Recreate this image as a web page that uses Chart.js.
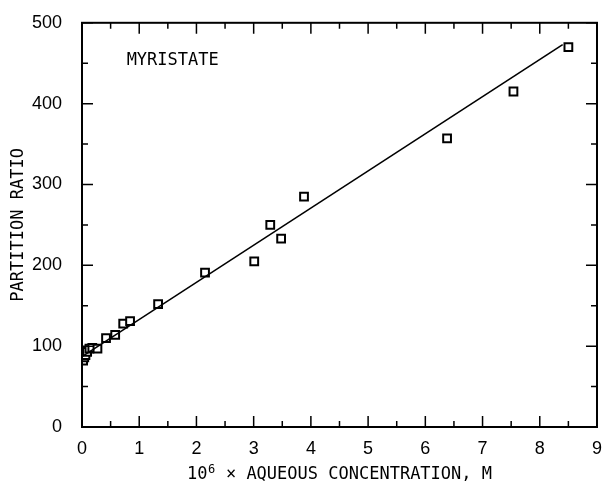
<!DOCTYPE html>
<html>
<head>
<meta charset="utf-8">
<script src="https://cdn.jsdelivr.net/npm/chart.js@4/dist/chart.umd.min.js"></script>
<style>
  html, body { margin: 0; padding: 0; background: #fff; }
  #c { display: block; }
</style>
</head>
<body>
<canvas id="c" width="605" height="485"></canvas>
<script>
// ---- data ----
const concX = [0.02, 0.04, 0.06, 0.09, 0.13, 0.18, 0.27, 0.42, 0.58, 0.72, 0.84, 1.33, 2.15, 3.01, 3.29, 3.48, 3.88, 6.38, 7.54, 8.50];
const ratioY = [82, 86, 89, 93, 97, 98, 97, 110, 114, 128, 131, 152, 191, 205, 250, 233, 285, 357, 415, 470];
const fitX = [0, 8.4];
const fitY = [87, 473];
const xTicks = [0, 1, 2, 3, 4, 5, 6, 7, 8, 9];
const yTicks = [0, 100, 200, 300, 400, 500];
const labelText = 'MYRISTATE';
const labelAt = [0.78, 453];
const xTitleParts = ['10', '6', ' \u00d7 AQUEOUS CONCENTRATION, M'];
const yTitle = 'PARTITION RATIO';

const pts = concX.map((x, i) => ({ x, y: ratioY[i] }));
const fit = fitX.map((x, i) => ({ x, y: fitY[i] }));

const frameTicks = {
  id: 'frameTicks',
  afterDraw(chart) {
    const { ctx, chartArea: a, scales: { x, y } } = chart;
    ctx.save();
    ctx.strokeStyle = '#000';
    ctx.lineWidth = 2;
    ctx.strokeRect(a.left, a.top, a.right - a.left, a.bottom - a.top);
    ctx.lineWidth = 1.5;
    ctx.beginPath();
    for (let v = x.min; v <= x.max + 1e-9; v += 0.5) {
      const px = x.getPixelForValue(v);
      const major = Math.abs(v - Math.round(v)) < 1e-6;
      const len = major ? 11 : 6;
      ctx.moveTo(px, a.bottom); ctx.lineTo(px, a.bottom - len);
      ctx.moveTo(px, a.top); ctx.lineTo(px, a.top + len);
    }
    for (let v = y.min; v <= y.max + 1e-9; v += 50) {
      const py = y.getPixelForValue(v);
      const major = v % 100 === 0;
      const len = major ? 11 : 6;
      ctx.moveTo(a.left, py); ctx.lineTo(a.left + len, py);
      ctx.moveTo(a.right, py); ctx.lineTo(a.right - len, py);
    }
    ctx.stroke();
    ctx.fillStyle = '#000';
    ctx.font = '17px "DejaVu Sans Mono"';
    ctx.textAlign = 'left';
    ctx.textBaseline = 'middle';
    ctx.fillText(labelText, x.getPixelForValue(labelAt[0]), y.getPixelForValue(labelAt[1]));

    // x-axis title with superscript exponent
    const big = '17px "DejaVu Sans Mono"';
    const small = '12px "DejaVu Sans Mono"';
    ctx.textBaseline = 'alphabetic';
    ctx.font = big;
    const w0 = ctx.measureText(xTitleParts[0]).width;
    const w2 = ctx.measureText(xTitleParts[2]).width;
    ctx.font = small;
    const w1 = ctx.measureText(xTitleParts[1]).width + 1;
    const total = w0 + w1 + w2;
    let tx = (a.left + a.right) / 2 - total / 2;
    const base = 479;
    ctx.font = big;
    ctx.fillText(xTitleParts[0], tx, base); tx += w0;
    ctx.font = small;
    ctx.fillText(xTitleParts[1], tx + 0.5, base - 6); tx += w1;
    ctx.font = big;
    ctx.fillText(xTitleParts[2], tx, base);
    ctx.restore();
  }
};

new Chart(document.getElementById('c'), {
  type: 'scatter',
  data: {
    datasets: [
      {
        data: fit,
        showLine: true,
        borderColor: '#000',
        borderWidth: 1.6,
        pointRadius: 0,
        fill: false
      },
      {
        data: pts,
        pointStyle: 'rect',
        pointRadius: 5.5,
        pointBackgroundColor: '#fff',
        pointBorderColor: '#000',
        pointBorderWidth: 2,
        showLine: false
      }
    ]
  },
  options: {
    responsive: false,
    animation: false,
    layout: { padding: { top: 20, right: 6, left: 0, bottom: 0 } },
    plugins: { legend: { display: false }, tooltip: { enabled: false } },
    scales: {
      x: {
        type: 'linear',
        min: 0, max: 9,
        afterFit(s) { s.height = 58; },
        afterBuildTicks(s) { s.ticks = xTicks.map(v => ({ value: v })); },
        grid: { display: false },
        border: { display: false },
        ticks: { color: '#000', padding: 3, font: { family: '"Liberation Sans"', size: 18 } },
        title: { display: false }
      },
      y: {
        type: 'linear',
        min: 0, max: 500,
        afterFit(s) { s.width = 82; },
        afterBuildTicks(s) { s.ticks = yTicks.map(v => ({ value: v })); },
        grid: { display: false },
        border: { display: false },
        ticks: { color: '#000', padding: 12, font: { family: '"Liberation Sans"', size: 18 } },
        title: { display: true, text: yTitle, color: '#000', padding: { top: 8, bottom: 0 },
                 font: { family: '"DejaVu Sans Mono"', size: 17 } }
      }
    }
  },
  plugins: [frameTicks]
});
</script>
</body>
</html>
